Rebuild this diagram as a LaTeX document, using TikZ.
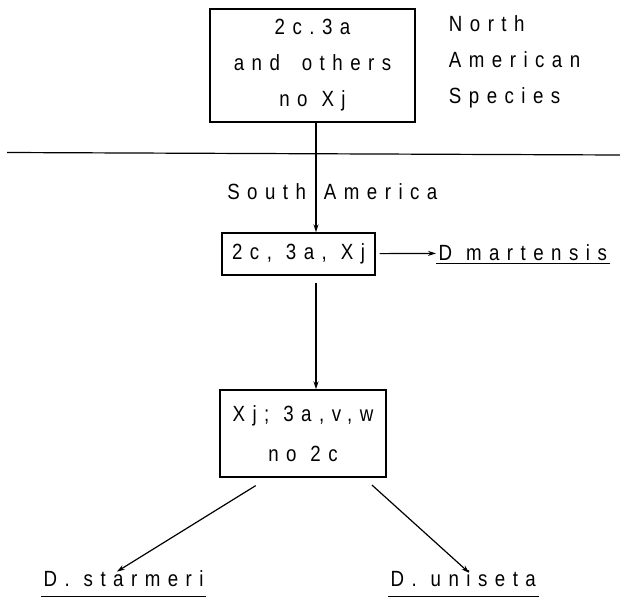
\documentclass[tikz,border=0pt]{standalone}
\usepackage{fontspec}
\setmainfont{Liberation Sans}[FakeStretch=0.85, LetterSpace=34, WordSpace=1.1]
\usepackage{tikz}
\usetikzlibrary{arrows.meta}

\begin{document}
\begin{tikzpicture} [x=1pt, y=-1pt, line width=1.2pt,
	every node/.style={font=\fontsize{22}{36}\selectfont},
	box/.style={draw, line width=1.4pt, align=center, inner sep=0pt},
	arr/.style={-{Stealth[length=8pt, width=5pt]}}]
	\useasboundingbox (0,0) rectangle (620,602);
	\node [box, minimum width=205pt, minimum height=113pt] (nam) at (312.5,65.5) {2c.3a\\and\hspace{8pt} others\\no Xj};
	\node [anchor=west, align=left] (north) at (445,62) {North\\American\\Species};
	\draw (7,152.5) -- (620,155);
	\coordinate (spine) at (316,0);
	\node [anchor=east] (south) at (310,192) {South};
	\node [anchor=west] (amer) at (320,192) {America};
	\node [box, minimum width=153pt, minimum height=42pt] (sa) at (298.5,254) {2c, 3a, Xj};
	\node [anchor=west, inner sep=2pt] (mart) at (436,253) {D martensis};
	\node [box, minimum width=166pt, minimum height=87pt, font=\fontsize{22}{40}\selectfont] (xj) at (303,433.5) {Xj; 3a,v,w\\no 2c};
	\node [anchor=base west, inner sep=2pt] (starm) at (41,586) {D. starmeri};
	\node [anchor=base west, inner sep=2pt] (unis) at (388,586) {D. uniseta};
	\draw [arr] (nam.south -| spine) -- (sa.north -| spine);
	\draw [arr, shorten <=7pt] (sa.south -| spine) -- (xj.north -| spine);
	\draw [arr, shorten <=4pt] (sa) -- (mart);
	\draw [arr, shorten <=15pt, shorten >=-8pt] (xj.232) -- (starm.north);
	\draw [arr, shorten <=11pt, shorten >=-8pt] (xj.324) -- (unis.north);
	\draw (mart.south west) -- (mart.south east);
	\draw ([yshift=-8pt]starm.south west) -- ([yshift=-8pt]starm.south east);
	\draw ([yshift=-8pt]unis.south west) -- ([yshift=-8pt]unis.south east);
\end{tikzpicture}
\end{document}
